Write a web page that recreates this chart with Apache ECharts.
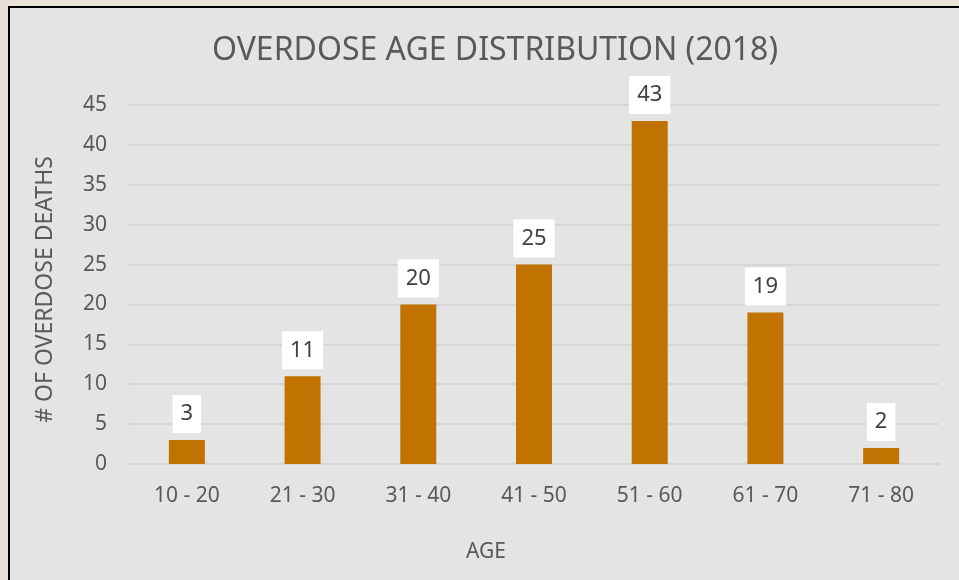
<!DOCTYPE html>
<html>
<head>
<meta charset="utf-8">
<script src="https://cdn.jsdelivr.net/npm/echarts@6/dist/echarts.min.js"></script>
<style>
  html, body { margin: 0; padding: 0; width: 959px; height: 580px; overflow: hidden; background: #e9e1d3; }
  .frame {
    position: absolute; left: 8px; top: 6px; right: 0; bottom: 0;
    background: #e4e4e4;
    border-left: 2px solid #000;
    border-top: 2px solid #000;
  }
  #chart { position: absolute; left: 0; top: 0; width: 959px; height: 580px; }
</style>
</head>
<body>
<div class="frame"></div>
<div id="chart"></div>
<script>
const ageGroups = ['10 - 20', '21 - 30', '31 - 40', '41 - 50', '51 - 60', '61 - 70', '71 - 80'];
const deaths = [3, 11, 20, 25, 43, 19, 2];

const chart = echarts.init(document.getElementById('chart'));
const font = '"Noto Sans", sans-serif';

chart.setOption({
  backgroundColor: 'transparent',
  textStyle: { fontFamily: font },
  title: {
    text: 'OVERDOSE AGE DISTRIBUTION (2018)',
    left: 490,
    textAlign: 'center',
    top: 30,
    textStyle: { fontFamily: font, fontSize: 32, fontWeight: 'normal', color: '#595959' }
  },
  grid: { left: 129, right: 20, top: 105, bottom: 116 },
  xAxis: {
    type: 'category',
    data: ageGroups,
    name: 'AGE',
    nameLocation: 'middle',
    nameGap: 78,
    nameTextStyle: { fontSize: 21, color: '#595959', padding: [0, 96, 0, 0] },
    axisLine: { lineStyle: { color: '#d6d6d6', width: 2 } },
    axisTick: { show: false },
    axisLabel: { fontSize: 21, color: '#595959', margin: 22 }
  },
  yAxis: {
    type: 'value',
    min: 0,
    max: 45,
    interval: 5,
    name: '# OF OVERDOSE DEATHS',
    nameLocation: 'middle',
    nameGap: 72,
    nameTextStyle: { fontSize: 23, color: '#595959', padding: [0, 10, 0, 0] },
    axisLine: { show: false },
    axisTick: { show: false },
    axisLabel: { fontSize: 21, color: '#595959', margin: 22 },
    splitLine: { lineStyle: { color: '#d6d6d6', width: 2 } }
  },
  series: [{
    type: 'bar',
    data: deaths,
    barWidth: 36,
    itemStyle: { color: '#c07300' },
    label: {
      show: true,
      position: 'top',
      distance: 7,
      fontSize: 22,
      lineHeight: 26,
      color: '#404040',
      backgroundColor: '#ffffff',
      padding: [6, 8, 6, 8]
    }
  }]
});
</script>
</body>
</html>
